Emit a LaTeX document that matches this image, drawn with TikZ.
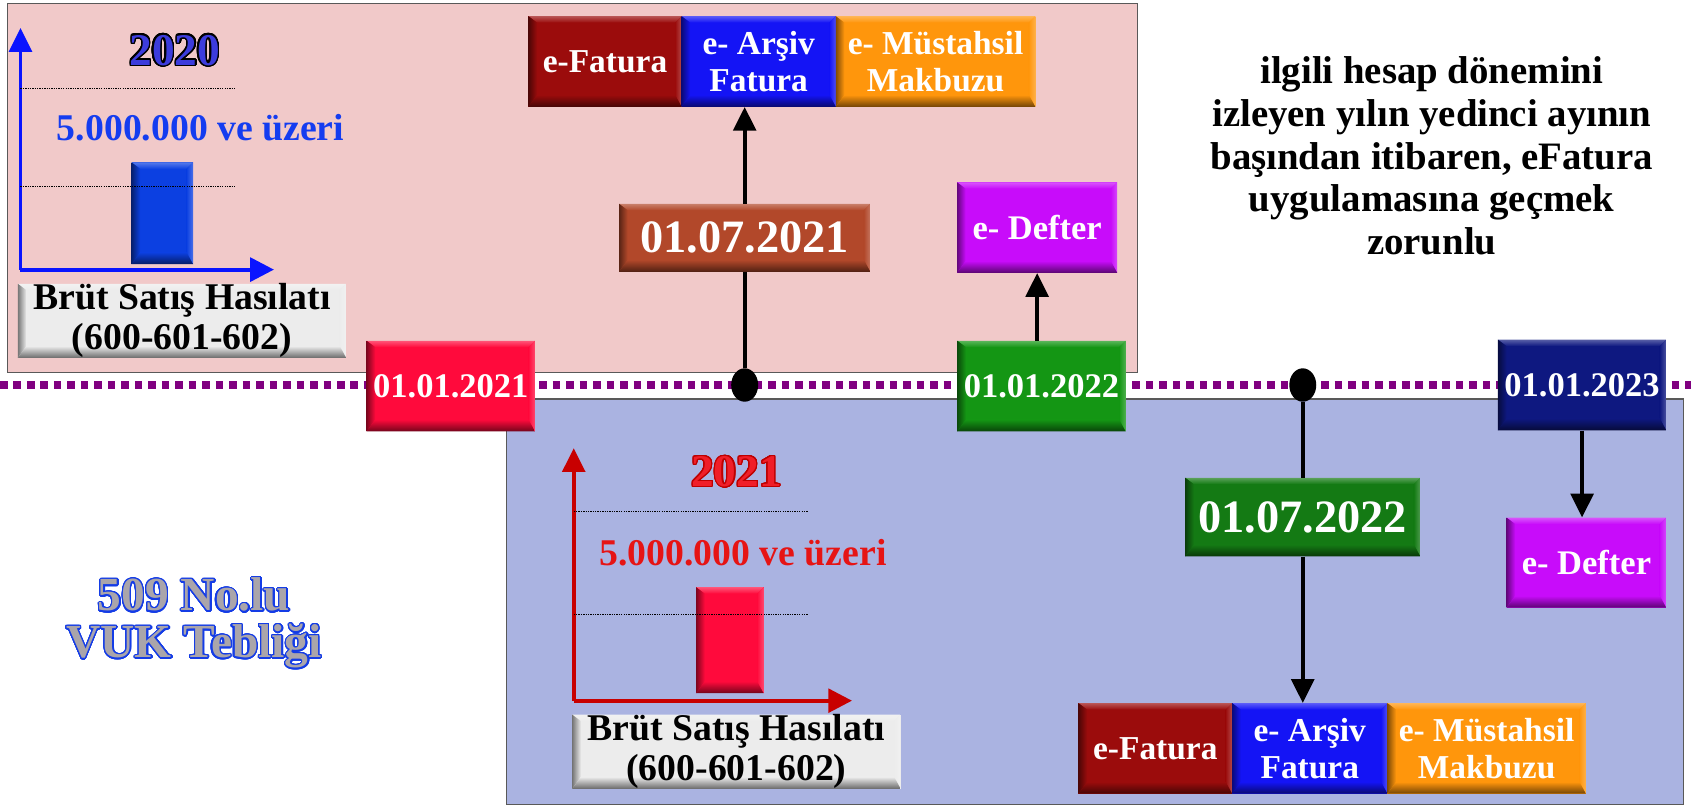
\documentclass[tikz,border=0pt]{standalone}
\usepackage{fontspec}
\setmainfont{Liberation Serif}
\usepackage[copies]{contour}
\usetikzlibrary{arrows.meta,shapes.geometric}
\definecolor{pinkbg}{RGB}{241,201,201}
\definecolor{bluebg}{RGB}{170,179,225}
\definecolor{tlc}{RGB}{128,0,128}
\definecolor{cEF}{RGB}{155,12,12}
\definecolor{cEA}{RGB}{20,20,245}
\definecolor{cEM}{RGB}{255,150,12}
\definecolor{cDa}{RGB}{178,72,42}
\definecolor{cED}{RGB}{200,12,250}
\definecolor{cR}{RGB}{255,10,60}
\definecolor{cGa}{RGB}{20,150,20}
\definecolor{cN}{RGB}{14,24,128}
\definecolor{cGb}{RGB}{20,122,20}
\definecolor{cBar}{RGB}{12,64,225}
\definecolor{cGray}{RGB}{236,236,236}
\definecolor{cAxA}{RGB}{10,20,255}
\definecolor{cAxB}{RGB}{200,0,0}
\definecolor{cYa}{RGB}{60,60,220}
\definecolor{cYb}{RGB}{240,30,40}
\definecolor{cYbo}{RGB}{190,0,0}
\definecolor{cThA}{RGB}{20,60,240}
\definecolor{cThB}{RGB}{230,20,20}
\definecolor{cVUK}{RGB}{170,165,170}
\definecolor{cVUKo}{RGB}{20,60,230}
\newcommand{\myfs}[2]{\fontsize{#1}{#2}\selectfont\bfseries}
\contournumber{32}
\tikzset{
  bev/.style={rectangle, inner sep=0pt, fill=#1, path picture={
    \coordinate (pSW) at (path picture bounding box.south west);
    \coordinate (pNE) at (path picture bounding box.north east);
    \coordinate (pNW) at (path picture bounding box.north west);
    \coordinate (pSE) at (path picture bounding box.south east);
    \coordinate (iSW) at ([shift={(8pt,11pt)}]pSW);
    \coordinate (iNW) at ([shift={(8pt,-6pt)}]pNW);
    \coordinate (iNE) at ([shift={(-6pt,-6pt)}]pNE);
    \coordinate (iSE) at ([shift={(-6pt,11pt)}]pSE);
    \shade[top color=#1!70!white, bottom color=#1] (pNW) -- (pNE) -- (iNE) -- (iNW) -- cycle;
    \shade[left color=#1, right color=#1!75!white] (pSE) -- (iSE) -- (iNE) -- (pNE) -- cycle;
    \shade[left color=#1!50!black, right color=#1] (pSW) -- (pNW) -- (iNW) -- (iSW) -- cycle;
    \shade[top color=#1, bottom color=#1!45!black] (pSW) -- (iSW) -- (iSE) -- (pSE) -- cycle;
  }},
  wtxt/.style={text=white, align=center},
  arr/.style={line width=3.5pt, -{Triangle[width=21pt,length=22pt]}},
  plain/.style={line width=3.5pt},
  grid/.style={line width=1.2pt, dash pattern=on 1.2pt off 1pt},
  tnode/.style={inner sep=0pt},
}
\begin{document}
\begin{tikzpicture}[x=1pt,y=-1pt]
\useasboundingbox (0,0) rectangle (1568,747);
% background panels
\draw[draw=gray!70!black, fill=pinkbg, line width=1pt] (7,3) rectangle (1055,345);
\draw[draw=gray!70!black, fill=bluebg, line width=1pt] (470,370) rectangle (1561,746);
% timeline
\coordinate (tlL) at (0,357);
\coordinate (tlR) at (1568,357);
\draw[tlc, line width=7pt, dash pattern=on 7pt off 5.5pt] (tlL) -- (tlR);

% ---- 2020 chart ----
\node[bev=cBar, minimum width=57pt, minimum height=94.4pt] (bar1) at (150.5,197.8) {};
\coordinate (o1) at (19,250);
\coordinate (t1) at (19,26);
\coordinate (r1) at (254,250);
\draw[cAxA, line width=3.5pt, -{Triangle[width=21pt,length=22pt]}] (o1) -- (t1);
\draw[cAxA, line width=3.5pt, -{Triangle[width=22pt,length=22pt]}] (o1) -- (r1);
\coordinate (g1a) at (19,82);  \coordinate (g1b) at (218,82);
\coordinate (g1c) at (19,173); \coordinate (g1d) at (218,173);
\draw[grid] (g1a) -- (g1b);
\draw[grid] (g1c) -- (g1d);
\node[tnode, anchor=base, font=\myfs{42}{46}] (y2020) at (162,60.3) {\contourlength{1.3pt}\contour{black}{\textcolor{cYa}{2020}}};
\node[tnode, anchor=base, text=cThA, font=\myfs{35}{38}] (thr1) at (186,130) {5.000.000 ve üzeri};
\node[bev=cGray, minimum width=304.5pt, minimum height=67pt, align=center, font=\myfs{35}{37}] (gb1) at (168.75,297.5) {Brüt Satış Hasılatı\\(600-601-602)};

% ---- 2021 chart ----
\node[bev=cR, minimum width=62.5pt, minimum height=98.3pt] (bar2) at (676.75,593.65) {};
\coordinate (o2) at (532,649.7);
\coordinate (t2) at (532,415.6);
\coordinate (r2) at (790,649.7);
\draw[cAxB, line width=3.5pt, -{Triangle[width=21pt,length=22pt]}] (o2) -- (t2);
\draw[cAxB, line width=3.5pt, -{Triangle[width=22pt,length=22pt]}] (o2) -- (r2);
\coordinate (g2a) at (532,474.5); \coordinate (g2b) at (749.5,474.5);
\coordinate (g2c) at (532,569.5); \coordinate (g2d) at (749.5,569.5);
\draw[grid] (g2a) -- (g2b);
\draw[grid] (g2c) -- (g2d);
\node[tnode, anchor=base, font=\myfs{42}{46}] (y2021) at (683,451) {\contourlength{1pt}\contour{cYbo}{\textcolor{cYb}{2021}}};
\node[tnode, anchor=base, text=cThB, font=\myfs{35}{38}] (thr2) at (689,524) {5.000.000 ve üzeri};
\node[bev=cGray, minimum width=304.5pt, minimum height=68pt, align=center, font=\myfs{35}{37}] (gb2) at (682.85,697) {Brüt Satış Hasılatı\\(600-601-602)};

% ---- top row ----
\node[bev=cEF, wtxt, minimum width=142pt, minimum height=84pt, font=\myfs{31}{34}] (efat1) at (561,57) {e-Fatura};
\node[bev=cEA, wtxt, minimum width=143pt, minimum height=84pt, font=\myfs{31}{34}] (ears1) at (703.5,57) {e- Arşiv\\Fatura};
\node[bev=cEM, wtxt, minimum width=185pt, minimum height=84pt, font=\myfs{31}{34}] (emus1) at (867.5,57) {e- Müstahsil\\Makbuzu};
\node[bev=cDa, wtxt, minimum width=233pt, minimum height=63pt, font=\myfs{43}{46}] (d0721) at (690.5,220.5) {01.07.2021};
\node[bev=cED, wtxt, minimum width=148.5pt, minimum height=84pt, font=\myfs{32}{34}] (edef1) at (961.7,211) {e- Defter};

% ---- timeline dates and dots ----
\node[bev=cR, wtxt, minimum width=156pt, minimum height=84pt, font=\myfs{32}{34}] (d0121) at (418,358) {01.01.2021};
\node[bev=cGa, wtxt, minimum width=156pt, minimum height=84pt, font=\myfs{32}{34}] (d0122) at (965.7,358) {01.01.2022};
\node[bev=cN, wtxt, minimum width=156pt, minimum height=84pt, font=\myfs{32}{34}] (d0123) at (1467,357) {01.01.2023};
\node[ellipse, fill=black, minimum width=25pt, minimum height=31pt, inner sep=0pt] (dot1) at (690.5,357) {};
\node[ellipse, fill=black, minimum width=25pt, minimum height=31pt, inner sep=0pt] (dot2) at (1208,357) {};

% ---- lower part ----
\node[bev=cGb, wtxt, minimum width=218pt, minimum height=73pt, font=\myfs{43}{46}] (d0722) at (1208,479.5) {01.07.2022};
\node[bev=cED, wtxt, minimum width=148pt, minimum height=83.5pt, font=\myfs{32}{34}] (edef2) at (1471,521.7) {e- Defter};
\node[bev=cEF, wtxt, minimum width=142.5pt, minimum height=84pt, font=\myfs{31}{34}] (efat2) at (1071.25,694) {e-Fatura};
\node[bev=cEA, wtxt, minimum width=144pt, minimum height=84pt, font=\myfs{31}{34}] (ears2) at (1214.5,694) {e- Arşiv\\Fatura};
\node[bev=cEM, wtxt, minimum width=184pt, minimum height=84pt, font=\myfs{31}{34}] (emus2) at (1378.5,694) {e- Müstahsil\\Makbuzu};

% ---- texts ----
\node[tnode, anchor=north, align=center, font=\myfs{44}{43.4}] (vuk) at (180,535.8) {\contourlength{1.2pt}\contour{cVUKo}{\textcolor{cVUK}{509 No.lu}}\\\contourlength{1.2pt}\contour{cVUKo}{\textcolor{cVUK}{VUK Tebliği}}};
\node[tnode, anchor=north, align=center, font=\myfs{36}{39.5}] (note) at (1327.6,52.6) {ilgili hesap dönemini\\izleyen yılın yedinci ayının\\başından itibaren, eFatura\\uygulamasına geçmek\\zorunlu};

% ---- connectors ----
\draw[plain] (dot1) -- (d0721);
\draw[arr] (d0721.north) -- (d0721.north |- ears1.south);
\draw[arr] (edef1.south |- d0122.north) -- (edef1.south);
\draw[plain] (dot2) -- (d0722);
\draw[arr] (d0722.south) -- (d0722.south |- ears2.north);
\draw[arr] (d0123.south) -- (d0123.south |- edef2.north);
\end{tikzpicture}
\end{document}
